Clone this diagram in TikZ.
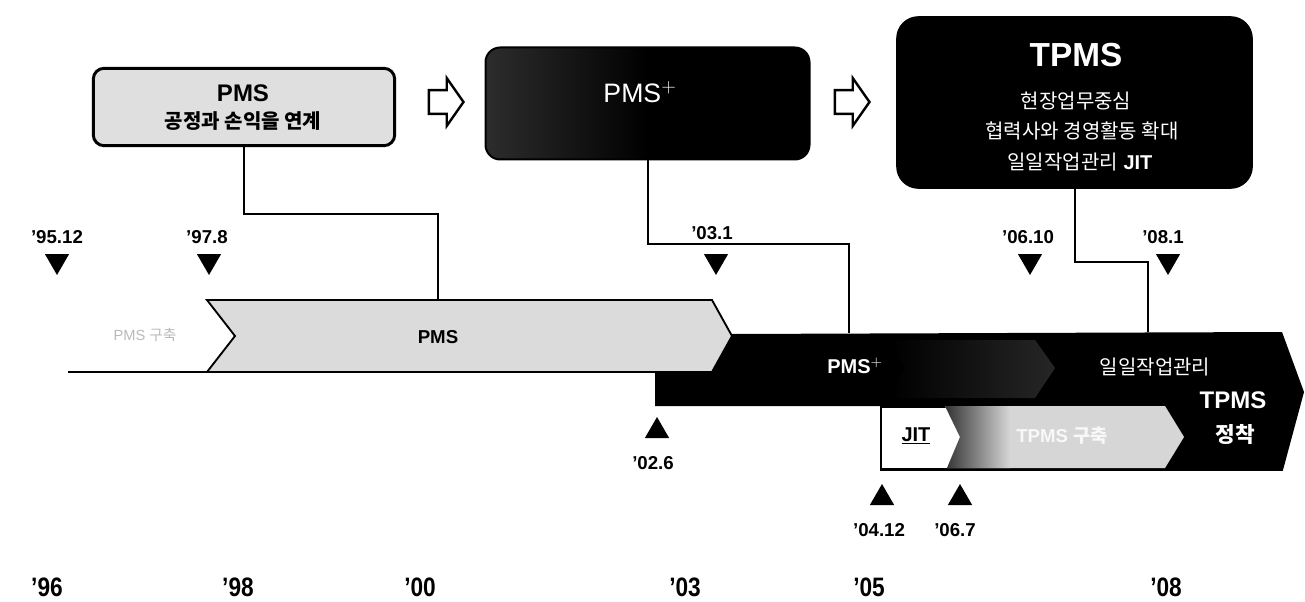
\documentclass[tikz,border=0pt]{standalone}
\usepackage{fontspec}
\setmainfont{Liberation Sans}
\newfontfamily\kr{Noto Sans CJK KR}
\usetikzlibrary{shapes.geometric,shapes.arrows}
\tikzset{
  conn/.style={draw=black, line width=1.5pt},
  lightbox/.style={draw=black, line width=2.2pt, fill=gray!25, rounded corners=8pt, inner sep=0pt},
  darkbox/.style={draw=black, line width=1.5pt, fill=black, rounded corners=11pt, inner sep=0pt},
  hollowarrow/.style={single arrow, draw=black, line width=1.8pt, fill=white, inner sep=8pt,
    single arrow head extend=9pt, single arrow tip angle=110, minimum height=26pt},
  downtri/.style={regular polygon, regular polygon sides=3, shape border rotate=180, fill=black,
    minimum size=21pt, inner sep=0pt},
  uptri/.style={regular polygon, regular polygon sides=3, fill=black, minimum size=21pt, inner sep=0pt},
  datelbl/.style={font=\fontsize{14}{16}\selectfont\bfseries, inner sep=0pt},
  yearlbl/.style={font=\fontsize{20}{22}\selectfont\bfseries, inner sep=0pt, xscale=0.85},
  wtxt/.style={text=white, inner sep=0pt},
}
\begin{document}
\begin{tikzpicture}[x=0.75pt,y=-0.75pt]
\useasboundingbox (0,0) rectangle (1305,602);

% ---------- top boxes ----------
\node[lightbox, minimum width=226pt, minimum height=58pt] (pmsbox) at (244,107) {};
\node[inner sep=0pt, font=\fontsize{18}{20}\selectfont\bfseries] (pmsboxt) at (243,93) {PMS};
\node[inner sep=0pt, font=\fontsize{15}{17}\selectfont\bfseries\kr] (pmsboxk) at (243,121) {공정과 손익을 연계};

\node[hollowarrow] (arr1) at (442,102) {};

\node[darkbox, minimum width=243pt, minimum height=84pt,
  left color=gray!35!black, right color=black, middle color=black] (plusbox) at (647.5,103.5) {};
\node[wtxt, font=\fontsize{20}{22}\selectfont] (plusboxt) at (640,92) {PMS$^{+}$};

\node[hollowarrow] (arr2) at (848,102) {};

\node[darkbox, rounded corners=16pt, minimum width=266pt, minimum height=128pt] (tpmsbox) at (1074.5,102.5) {};
\node[wtxt, font=\fontsize{25}{27}\selectfont\bfseries] (tpmsboxt) at (1076,55) {TPMS};
\node[wtxt, font=\fontsize{15}{17}\selectfont\kr] (tpmsl1) at (1076,101) {현장업무중심};
\node[wtxt, font=\fontsize{15}{17}\selectfont\kr] (tpmsl2) at (1082,131) {협력사와 경영활동 확대};
\node[wtxt, font=\fontsize{15}{17}\selectfont] (tpmsl3) at (1080,162) {{\kr 일일작업관리} \textbf{JIT}};

% ---------- timeline bars ----------
\coordinate (base0) at (68,372);
\coordinate (base1) at (660,372);
\draw[line width=2pt] (base0) -- (base1);

% black PMS+ / TPMS bar
\fill[black] (655,372) -- (712,372) -- (732,334) -- (1282,332) -- (1304,392) -- (1283,470)
  -- (880,470) -- (880,406) -- (655,406) -- cycle;
% faint gradient chevron inside black bar
\shade[left color=black, right color=gray!30!black]
  (890,340) -- (1035,340) -- (1055,368) -- (1035,398) -- (890,398) -- (905,368) -- cycle;

% white JIT area and gray TPMS-building chevron
\fill[white] (882,408) rectangle (962,468);
\begin{scope}
  \clip (945,406) -- (1165,406) -- (1184,437) -- (1165,468) -- (947,468) -- (960,437) -- cycle;
  \fill[gray!32] (940,400) rectangle (1190,475);
  \shade[left color=gray!30!black, right color=gray!32] (940,400) rectangle (1010,475);
\end{scope}
\draw[line width=2pt] (880,470) -- (1283,470);

% gray PMS chevron
\filldraw[fill=gray!28, draw=black, line width=1.4pt]
  (207,300) -- (712,300) -- (732,336) -- (712,372) -- (207,372) -- (235,336) -- cycle;

% bar labels
\node[inner sep=0pt, text=gray!55, font=\fontsize{11}{13}\selectfont] (lblpmsbuild) at (145,335) {PMS {\kr 구축}};
\node[inner sep=0pt, font=\fontsize{14}{16}\selectfont\bfseries] (lblpms) at (438,337) {PMS};
\node[wtxt, font=\fontsize{15}{17}\selectfont\bfseries] (lblplus) at (855,366) {PMS$^{+}$};
\node[wtxt, font=\fontsize{15}{17}\selectfont\kr] (lbldaily) at (1155,367) {일일작업관리};
\node[wtxt, font=\fontsize{18}{20}\selectfont\bfseries] (lbltpms) at (1233,400) {TPMS};
\node[wtxt, font=\fontsize{16}{18}\selectfont\bfseries\kr] (lblsettle) at (1235,435) {정착};
\node[inner sep=0pt, font=\fontsize{15}{17}\selectfont\bfseries] (lbljit) at (916,436) {\underline{JIT}};
\node[inner sep=0pt, text=white, opacity=0.85, font=\fontsize{14}{16}\selectfont\bfseries] (lbltpmsbuild) at (1062,436) {TPMS {\kr 구축}};

% ---------- connectors ----------
\coordinate (pmsTop) at (438,300);
\coordinate (plusTop) at (849,333);
\coordinate (tpmsTop) at (1148,332);
\draw[conn] (pmsbox.south) -- ++(0,67) -| (pmsTop);
\draw[conn] (plusbox.south) -- ++(0,84) -| (plusTop);
\draw[conn] (tpmsbox.south) -- ++(0,73) -| (tpmsTop);

% ---------- milestones (top) ----------
\node[downtri] (m9512) at (57,261) {};
\node[datelbl] (d9512) at (57,237) {'95.12};
\node[downtri] (m978) at (209,261) {};
\node[datelbl] (d978) at (207,237) {'97.8};
\node[downtri] (m031) at (716,261) {};
\node[datelbl] (d031) at (712,233) {'03.1};
\node[downtri] (m0610) at (1030,261) {};
\node[datelbl] (d0610) at (1028,237) {'06.10};
\node[downtri] (m081) at (1168,261) {};
\node[datelbl] (d081) at (1163,237) {'08.1};

% ---------- milestones (bottom) ----------
\node[uptri] (m026) at (657,431) {};
\node[datelbl] (d026) at (653,463) {'02.6};
\node[uptri] (m0412) at (882,498) {};
\node[datelbl] (d0412) at (879,530) {'04.12};
\node[uptri] (m067) at (960,498) {};
\node[datelbl] (d067) at (955,530) {'06.7};

% ---------- year axis ----------
\node[yearlbl] (y96) at (47,587) {'96};
\node[yearlbl] (y98) at (238,587) {'98};
\node[yearlbl] (y00) at (420,587) {'00};
\node[yearlbl] (y03) at (685,587) {'03};
\node[yearlbl] (y05) at (869,587) {'05};
\node[yearlbl] (y08) at (1166,587) {'08};
\end{tikzpicture}
\end{document}
